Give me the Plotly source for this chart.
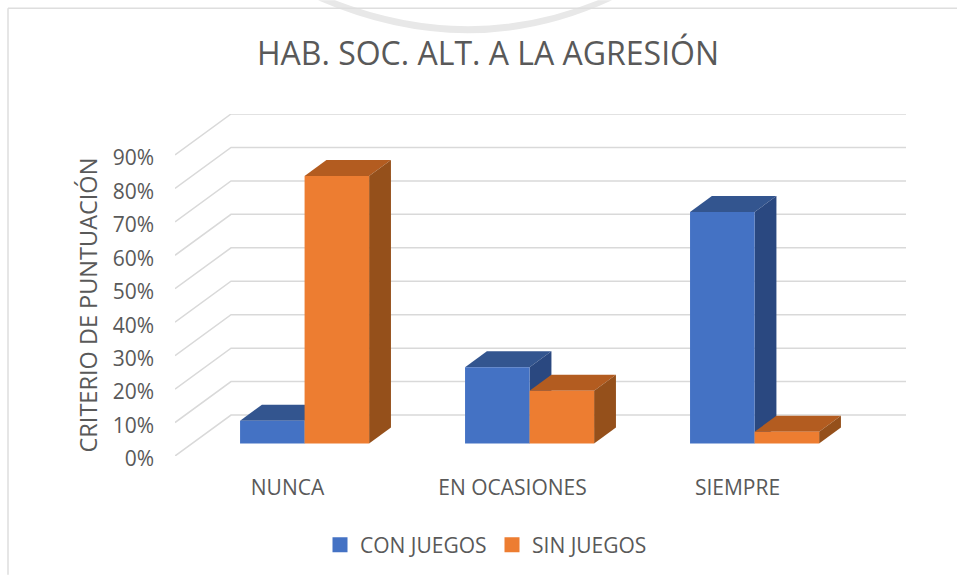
import plotly.graph_objects as go

# Values
categories = ["NUNCA", "EN OCASIONES", "SIEMPRE"]
con_juegos = [6.8, 22.8, 69.2]
sin_juegos = [80, 15.8, 3.5]
y_ticks = [0, 10, 20, 30, 40, 50, 60, 70, 80, 90]
y_labels = [f"{v}%" for v in y_ticks]

TEXT = "#595959"
GRID = "#d9d9d9"
FONT = "Open Sans"
BLUE = "#4472C4"
ORANGE = "#ED7D31"

# Oblique projection of the 3D box: depth 0..1 shifts right and up
DEPTH_X = 0.249  # category units
DEPTH_Y = 12.24  # percent units
BAR_W = 0.2868
D_FRONT = 0.305
D_BACK = 0.695

W, H = 957, 576
L, R, T, B = 175, 51, 114, 119


def project(x, v, d):
    return x + d * DEPTH_X, v + d * DEPTH_Y


def poly(points, color, layer="between"):
    path = "M " + " L ".join(f"{x},{y}" for x, y in points) + " Z"
    return dict(type="path", path=path, xref="x", yref="y", fillcolor=color,
                line=dict(width=0), layer=layer)


def box_faces(x0, x1, v, top_color, side_color):
    top = [project(x0, v, D_FRONT), project(x1, v, D_FRONT), project(x1, v, D_BACK), project(x0, v, D_BACK)]
    side = [project(x1, 0, D_FRONT), project(x1, v, D_FRONT), project(x1, v, D_BACK), project(x1, 0, D_BACK)]
    return [poly(top, top_color), poly(side, side_color)]


def px(x):
    return (x - L) / (W - L - R)


def py(y):
    return 1 - (y - T) / (H - T - B)


shapes = []

# Watermark arc behind the chart, cut off at the top of the page
shapes.append(dict(type="path", xref="paper", yref="paper", layer="below",
                   path=f"M {px(318)},{py(0)} Q {px(470)},{py(66)} {px(612)},{py(0)} "
                        f"L {px(598)},{py(0)} Q {px(470)},{py(52)} {px(335)},{py(0)} Z",
                   fillcolor="#e8e8e8", line=dict(width=0)))
# Chart frame
shapes.append(dict(type="line", xref="paper", yref="paper", layer="below",
                   x0=px(8), x1=px(8), y0=py(8), y1=py(576), line=dict(color="#dedede", width=1.5)))
shapes.append(dict(type="line", xref="paper", yref="paper", layer="below",
                   x0=px(8), x1=px(957), y0=py(8), y1=py(8), line=dict(color="#dedede", width=1.5)))

# Grid runs along the side wall and then the back wall
for v in y_ticks:
    x_a, y_a = project(-0.5, v, 0)
    x_b, y_b = project(-0.5, v, 1)
    x_c, y_c = project(2.5, v, 1)
    shapes.append(dict(type="path", path=f"M {x_a},{y_a} L {x_b},{y_b} L {x_c},{y_c}",
                       xref="x", yref="y", layer="below", line=dict(color=GRID, width=1.5)))

# Top and side faces sit under the front faces, blue before orange
for i, v in enumerate(con_juegos):
    shapes += box_faces(i - BAR_W, i, v, "#33558F", "#2A4880")
for i, v in enumerate(sin_juegos):
    shapes += box_faces(i, i + BAR_W, v, "#B35C20", "#95501B")

x_shift = D_FRONT * DEPTH_X
base = D_FRONT * DEPTH_Y
x_con = [i + x_shift - BAR_W / 2 for i in range(len(categories))]
x_sin = [i + x_shift + BAR_W / 2 for i in range(len(categories))]

fig = go.Figure()
fig.add_trace(go.Bar(x=x_con, y=con_juegos, base=base, width=BAR_W, showlegend=False,
                     marker=dict(color=BLUE, line=dict(width=0))))
fig.add_trace(go.Bar(x=x_sin, y=sin_juegos, base=base, width=BAR_W, showlegend=False,
                     marker=dict(color=ORANGE, line=dict(width=0))))
# Legend entries, for a swatch of the right size
fig.add_trace(go.Scatter(x=[None], y=[None], mode="markers", name="CON JUEGOS",
                         marker=dict(symbol="square", size=15, color=BLUE)))
fig.add_trace(go.Scatter(x=[None], y=[None], mode="markers", name="SIN JUEGOS",
                         marker=dict(symbol="square", size=15, color=ORANGE)))

fig.update_layout(
    width=W,
    height=H,
    margin=dict(l=L, r=R, t=T, b=B),
    barmode="overlay",
    paper_bgcolor="white",
    plot_bgcolor="white",
    font=dict(family=FONT, color=TEXT, size=21),
    shapes=shapes,
    title=dict(text="HAB. SOC. ALT. A LA AGRESIÓN", x=488 / W, y=1 - 54 / H,
               xanchor="center", yanchor="middle", font=dict(size=32, color=TEXT)),
    legend=dict(orientation="h", x=px(320), y=py(545), xanchor="left", yanchor="middle",
                entrywidth=127, entrywidthmode="pixels",
                font=dict(size=21, color=TEXT), bgcolor="rgba(0,0,0,0)"),
    xaxis=dict(range=[-0.5, 2.5 + DEPTH_X], tickvals=list(range(len(categories))), ticktext=categories,
               showgrid=False, zeroline=False, showline=False, ticks="", ticklabelstandoff=17),
    yaxis=dict(range=[0, 90 + DEPTH_Y], tickvals=y_ticks, ticktext=y_labels,
               showgrid=False, zeroline=False, showline=False, ticks="", ticklabelstandoff=20,
               ticklabelshift=3),
    annotations=[dict(text="CRITERIO DE PUNTUACIÓN", textangle=-90, xref="paper", yref="paper",
                      x=px(88), y=py(306), showarrow=False, xanchor="center", yanchor="middle",
                      font=dict(size=23.5, color=TEXT))],
)

fig.write_html("out.html", config=dict(displayModeBar=False),
               post_script="document.body.style.margin='0';")
